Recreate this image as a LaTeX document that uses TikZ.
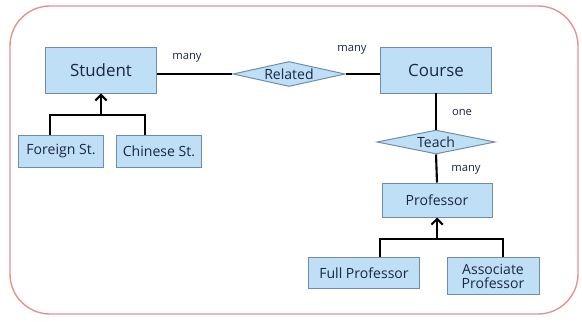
\documentclass[tikz,border=0pt]{standalone}
\usepackage{fontspec}
\setmainfont{Open Sans}
\usetikzlibrary{shapes.geometric,arrows.meta}

\definecolor{boxfill}{HTML}{BEDFF6}
\definecolor{boxline}{HTML}{6F8CA8}
\definecolor{inktext}{HTML}{1C2742}
\definecolor{framered}{HTML}{E29493}

\begin{document}
\begin{tikzpicture}[
    x=0.025cm, y=-0.025cm,
    entity/.style={rectangle, draw=boxline, fill=boxfill, line width=0.7pt, text=inktext, inner sep=0pt, align=center},
    relation/.style={diamond, aspect=5, draw=boxline, fill=boxfill, line width=0.7pt, text=inktext, inner sep=0pt},
    link/.style={line width=1.5pt, black},
    isa/.style={line width=1.5pt, black, -{Straight Barb[length=4pt,width=8pt,line width=1.5pt]}},
    card/.style={font=\footnotesize, text=inktext}
]
\useasboundingbox (0,0) rectangle (582,321);

% outer frame
\draw[framered, line width=1pt, rounded corners=1cm] (10,6) rectangle (578,314);

% entities
\node[entity, minimum width=2.775cm, minimum height=1.15cm, font=\large] (student) at (101,70) {Student};
\node[entity, minimum width=2.775cm, minimum height=1.15cm, font=\large] (course) at (436,70) {Course};
\node[entity, minimum width=2.75cm, minimum height=0.85cm] (professor) at (437,200) {Professor};

% subclasses
\node[entity, minimum width=2.1cm, minimum height=0.8cm] (foreign) at (61,151) {Foreign St.};
\node[entity, minimum width=2.1cm, minimum height=0.8cm] (chinese) at (159,151) {Chinese St.};
\node[entity, minimum width=2.775cm, minimum height=0.775cm] (fullprof) at (364,273) {Full Professor};
\node[entity, minimum width=2.3cm, minimum height=0.925cm] (assocprof) at (493,276) {Associate\\[-2pt]Professor};

% relationships
\node[relation, minimum width=2.8cm, minimum height=0.625cm] (related) at (289,74) {Related};
\node[relation, minimum width=2.95cm, minimum height=0.6cm] (teach) at (436,142) {Teach};

% connectors
\draw[link] (student.east |- related.west) -- (related.west);
\draw[link] (related.east) -- (related.east -| course.west);
\draw[link] (course.south) -- (teach.north);
\draw[link] (teach.south) -- (professor.north);

% generalisation
\coordinate (stujoin) at (101,115);
\coordinate (profjoin) at (437,239);
\draw[link] ([xshift=-0.275cm]foreign.north) |- (stujoin) -| ([xshift=-0.35cm]chinese.north);
\draw[isa] (stujoin) -- (student.south);
\draw[link] ([xshift=0.4cm]fullprof.north) |- (profjoin) -| ([xshift=0.25cm]assocprof.north);
\draw[isa] (profjoin) -- (professor.south);

% cardinalities
\node[card] (cardA) at (187,58) {many};
\node[card] (cardB) at (352,50) {many};
\node[card] (cardC) at (462,112) {one};
\node[card] (cardD) at (466,170) {many};

\end{tikzpicture}
\end{document}
